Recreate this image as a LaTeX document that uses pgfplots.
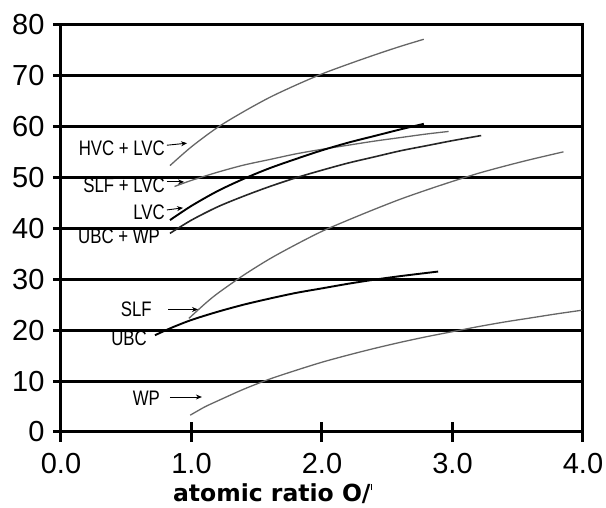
\documentclass[border=0pt]{standalone}
\usepackage{fontspec}
\setmainfont{DejaVu Sans}
\newfontfamily\condfont[FakeStretch=0.8]{Liberation Sans}
\newfontfamily\tickfont{Liberation Sans}
\usepackage{pgfplots}
\pgfplotsset{compat=1.18}
\usetikzlibrary{arrows.meta}
\begin{document}
\begin{tikzpicture}
\begin{axis}[
  scale only axis, width=522pt, height=407.5pt,
  xmin=0, xmax=4, ymin=0, ymax=80,
  xtick={0,1,2,3,4}, xticklabels={0.0,1.0,2.0,3.0,4.0},
  ytick={0,10,20,30,40,50,60,70,80},
  ymajorgrids, major grid style={black, line width=3pt},
  axis line style={line width=3pt},
  tick align=center, major tick length=20pt,
  every tick/.style={black, line width=3pt},
  ytick style={xshift=2pt},
  xtick pos=bottom, ytick pos=left,
  ticklabel style={font=\tickfont\fontsize{29}{32}\selectfont},
  xticklabel style={yshift=-8pt},
  yticklabel style={xshift=-3pt},
  /pgf/number format/assume math mode=true,
  clip=false,
]
\coordinate (O) at (axis cs:0,0);
% HVC + LVC
\addplot[smooth, black!60, line width=1.3pt] coordinates {
(0.835,52.3)(1.0,56.0)(1.2,59.8)(1.4,62.9)(1.6,65.7)(1.8,68.1)(2.0,70.3)(2.2,72.2)(2.4,74.0)(2.6,75.7)(2.78,77.1)};
% SLF + LVC
\addplot[smooth, black!60, line width=1.3pt] coordinates {
(0.87,48.2)(1.0,49.4)(1.2,51.0)(1.4,52.4)(1.6,53.5)(1.8,54.6)(2.0,55.5)(2.2,56.3)(2.4,57.1)(2.6,57.8)(2.8,58.5)(2.97,59.0)};
% LVC
\addplot[smooth, black, line width=1.9pt] coordinates {
(0.835,41.6)(1.0,44.4)(1.2,47.3)(1.4,49.7)(1.6,51.8)(1.8,53.6)(2.0,55.3)(2.2,56.8)(2.4,58.1)(2.6,59.4)(2.78,60.5)};
% UBC + WP
\addplot[smooth, black!85, line width=1.6pt] coordinates {
(0.835,39.0)(1.0,41.6)(1.2,44.2)(1.4,46.3)(1.6,48.2)(1.8,49.9)(2.0,51.4)(2.2,52.8)(2.4,54.0)(2.6,55.2)(2.8,56.2)(3.0,57.2)(3.22,58.2)};
% SLF
\addplot[smooth, black!60, line width=1.3pt] coordinates {
(0.98,22.3)(1.1,25.1)(1.2,27.2)(1.4,30.8)(1.6,34.0)(1.8,36.8)(2.0,39.4)(2.2,41.6)(2.4,43.7)(2.6,45.7)(2.8,47.5)(3.0,49.2)(3.2,50.8)(3.4,52.2)(3.6,53.5)(3.85,55.0)};
% UBC
\addplot[smooth, black, line width=1.9pt] coordinates {
(0.72,19.0)(0.85,20.5)(1.0,22.0)(1.2,23.6)(1.4,25.0)(1.6,26.2)(1.8,27.3)(2.0,28.2)(2.2,29.1)(2.4,29.9)(2.6,30.6)(2.89,31.5)};
% WP
\addplot[smooth, black!60, line width=1.3pt] coordinates {
(0.99,3.3)(1.1,4.9)(1.2,6.1)(1.4,8.4)(1.6,10.4)(1.8,12.1)(2.0,13.7)(2.2,15.1)(2.4,16.4)(2.6,17.6)(2.8,18.7)(3.0,19.7)(3.2,20.7)(3.4,21.6)(3.6,22.4)(3.8,23.2)(3.99,23.9)};
% labels
\tikzset{lab/.style={anchor=east, inner sep=0pt, font=\condfont\fontsize{21}{24}\selectfont},
         arr/.style={-{Stealth[length=6pt,width=5pt]}, line width=0.9pt}}
\node[lab] at (axis cs:0.797,55.75) {HVC + LVC};
\draw[arr] (axis cs:0.812,56.3) -- (axis cs:0.966,56.7);
\node[lab] at (axis cs:0.797,48.5) {SLF + LVC};
\draw[arr] (axis cs:0.812,49.1) -- (axis cs:0.943,49.1);
\node[lab] at (axis cs:0.797,43.1) {LVC};
\draw[arr] (axis cs:0.812,43.6) -- (axis cs:0.935,44.0);
\node[lab] at (axis cs:0.759,38.5) {UBC + WP};
\node[lab] at (axis cs:0.697,24.0) {SLF};
\draw[arr] (axis cs:0.82,24.05) -- (axis cs:1.05,24.05);
\node[lab] at (axis cs:0.659,18.45) {UBC};
\node[lab] at (axis cs:0.759,6.58) {WP};
\draw[arr] (axis cs:0.835,6.87) -- (axis cs:1.08,6.87);
\node[anchor=center, inner sep=0pt, font=\bfseries\fontsize{23.5}{26}\selectfont] at ([yshift=-62pt]axis cs:1.62,0) {atomic ratio O/\raisebox{0.5em}{\rule{1.2pt}{6pt}}};
\end{axis}
\pgfresetboundingbox
\useasboundingbox ([shift={(-61pt,-76pt)}]O) rectangle ([shift={(545pt,432pt)}]O);
\end{tikzpicture}
\end{document}
